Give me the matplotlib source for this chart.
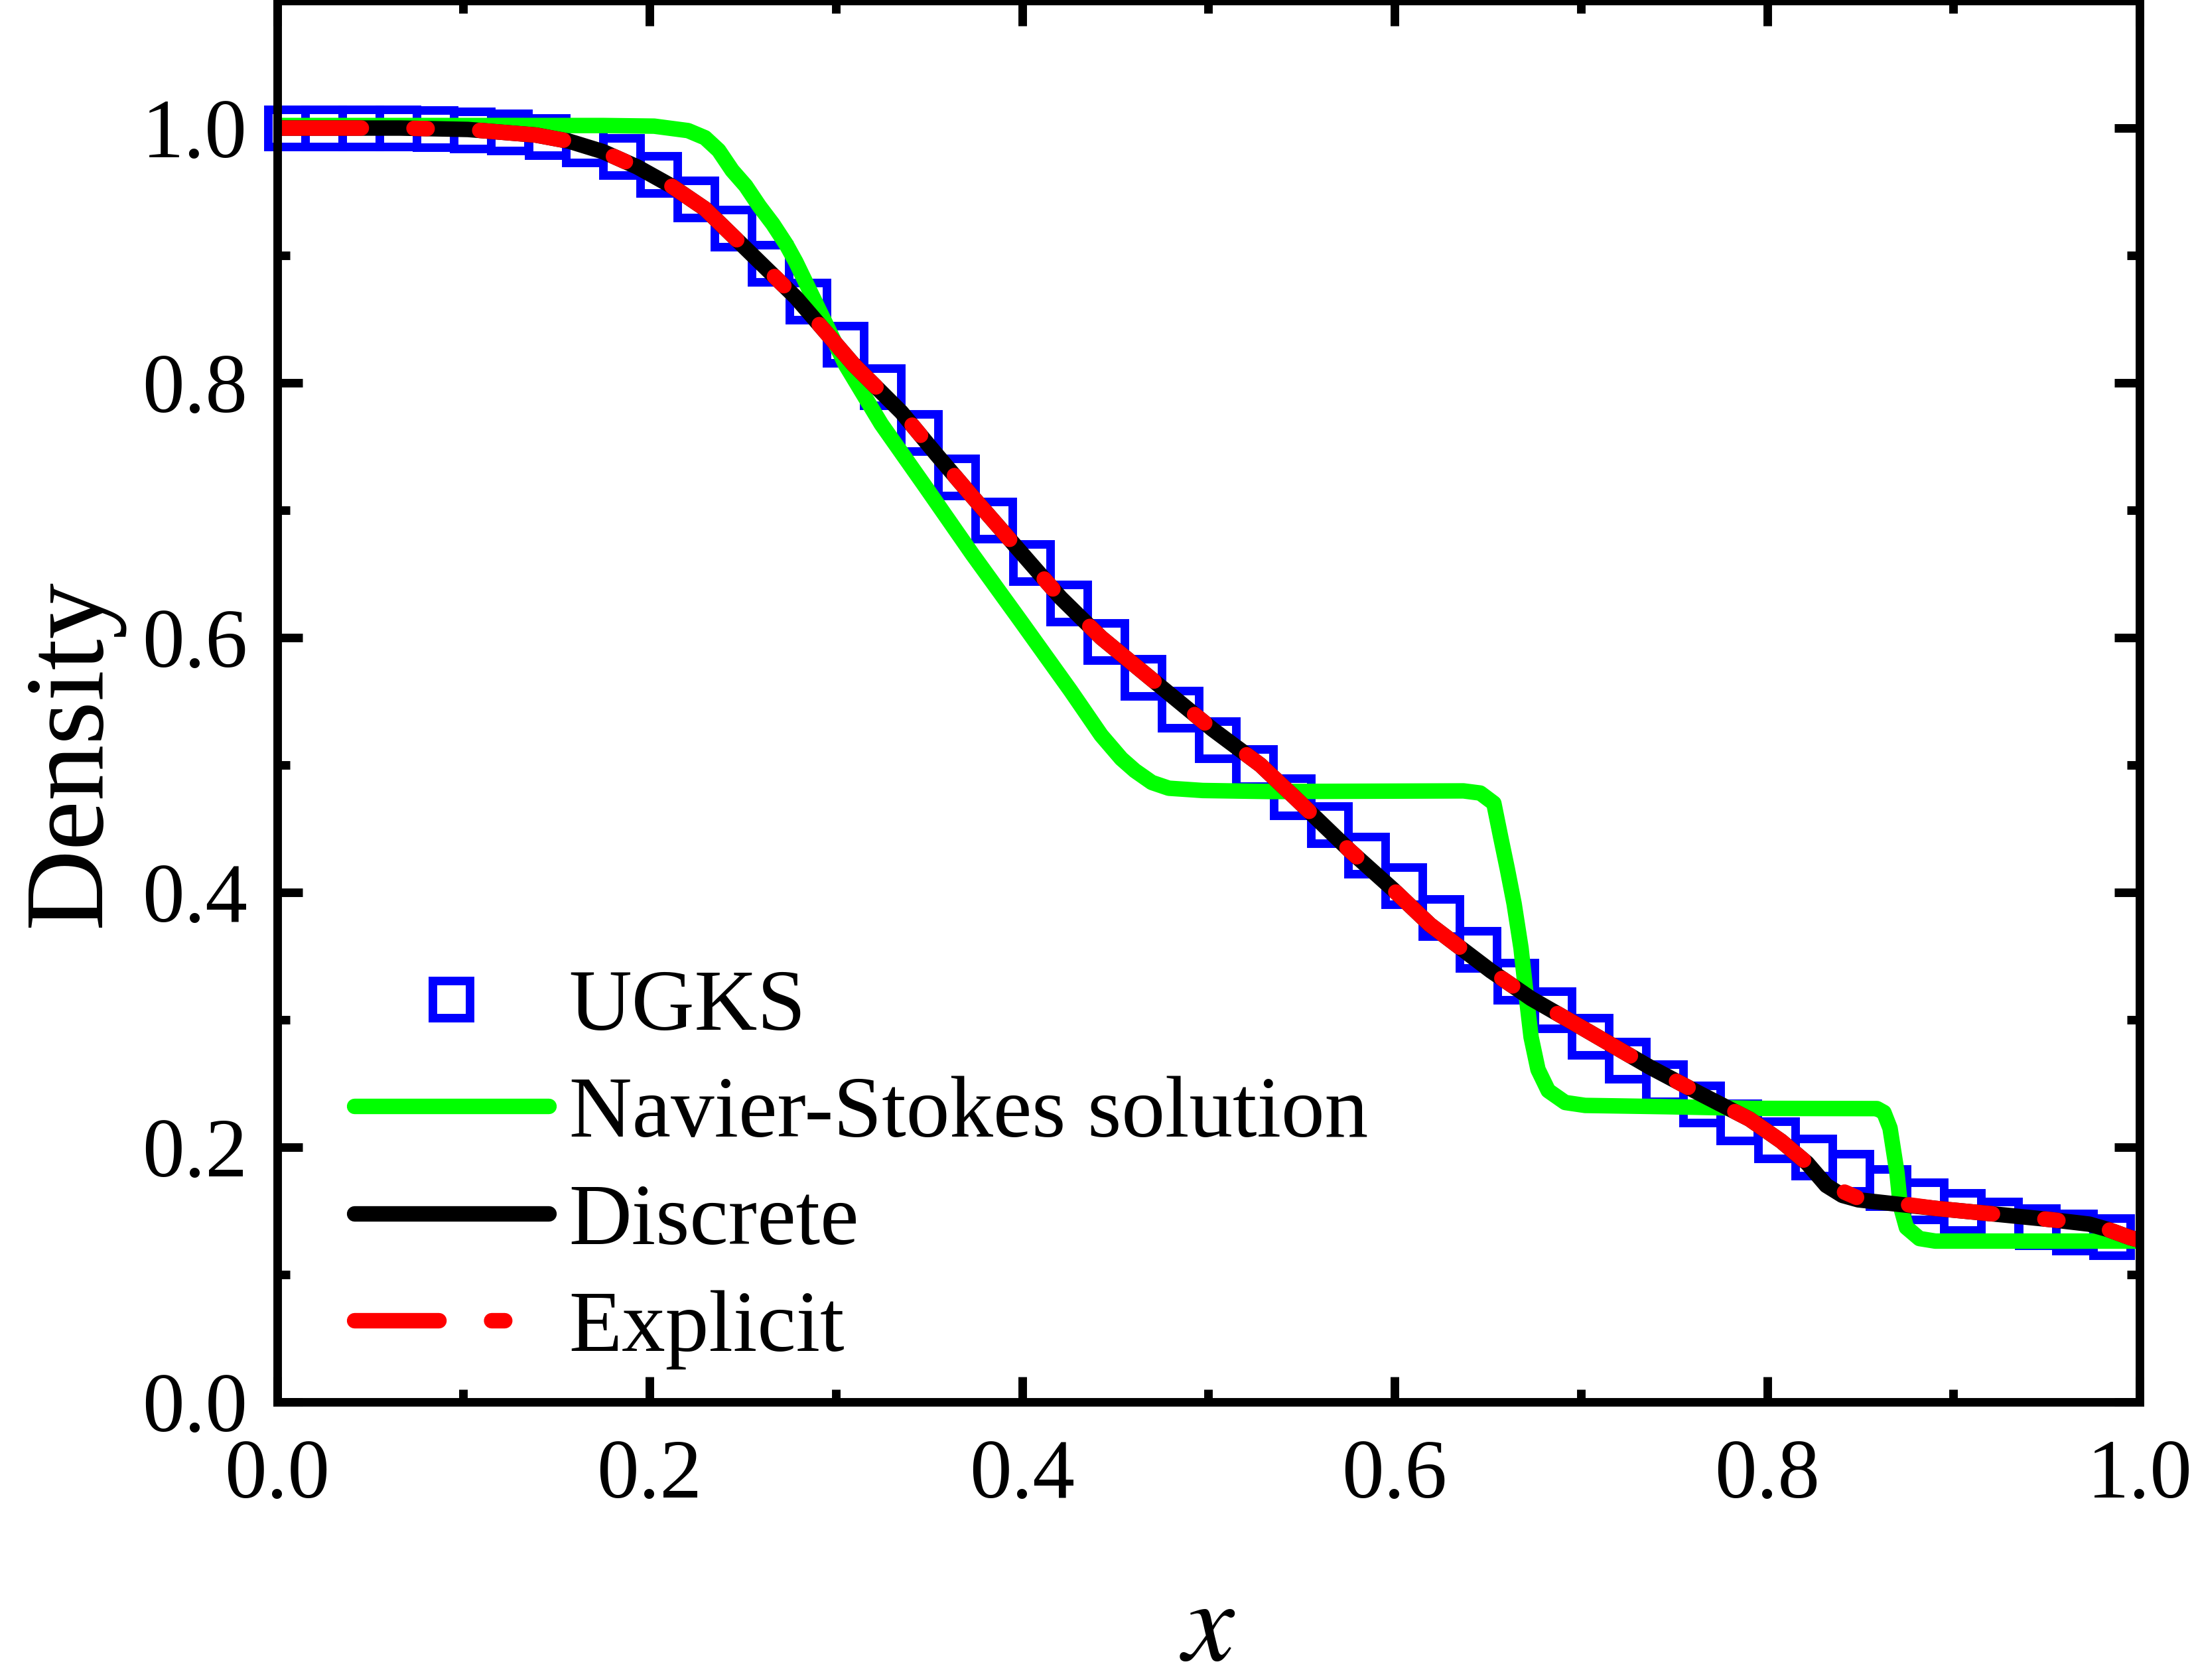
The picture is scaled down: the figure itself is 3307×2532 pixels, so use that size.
import matplotlib
matplotlib.use("Agg")
import matplotlib.pyplot as plt
from matplotlib.ticker import MultipleLocator

plt.rcParams['font.family'] = ['Liberation Serif', 'DejaVu Serif']

# UGKS (every other cell centre)
ugks_x = [0.005, 0.025, 0.045, 0.065, 0.085, 0.105, 0.125, 0.145, 0.165, 0.185,
          0.205, 0.225, 0.245, 0.265, 0.285, 0.305, 0.325, 0.345, 0.365, 0.385,
          0.405, 0.425, 0.445, 0.465, 0.485, 0.505, 0.525, 0.545, 0.565, 0.585,
          0.605, 0.625, 0.645, 0.665, 0.685, 0.705, 0.725, 0.745, 0.765, 0.785,
          0.805, 0.825, 0.845, 0.865, 0.885, 0.905, 0.925, 0.945, 0.965, 0.985]
ugks_rho = [1.000, 1.000, 1.000, 1.000, 0.9995, 0.9986, 0.9969, 0.9932, 0.9877, 0.9778,
            0.9638, 0.9444, 0.9215, 0.894, 0.864, 0.830, 0.797, 0.761, 0.726, 0.692,
            0.659, 0.627, 0.597, 0.569, 0.544, 0.520, 0.498, 0.475, 0.453, 0.429,
            0.405, 0.380, 0.355, 0.330, 0.308, 0.287, 0.268, 0.2505, 0.234, 0.2197,
            0.2057, 0.192, 0.180, 0.168, 0.158, 0.1494, 0.1427, 0.1375, 0.1333, 0.1297]

# Navier-Stokes solution
ns_x = [0.0, 0.1753, 0.2025, 0.2207, 0.2298, 0.2371, 0.2444, 0.2516, 0.259, 0.2662,
        0.2734, 0.2786, 0.3053, 0.3244, 0.348, 0.3734, 0.3988, 0.4261, 0.4425, 0.4533,
        0.4606, 0.4697, 0.4788, 0.497, 0.5333, 0.637, 0.646, 0.6533, 0.657, 0.6605,
        0.6642, 0.6679, 0.6705, 0.6733, 0.677, 0.6825, 0.6916, 0.7023, 0.746, 0.7914,
        0.859, 0.8627, 0.866, 0.8697, 0.8715, 0.8748, 0.8818, 0.8903, 0.932, 1.0]
ns_rho = [1.002, 1.002, 1.0015, 0.998, 0.9924, 0.9825, 0.9667, 0.9547, 0.9386, 0.9247,
          0.9086, 0.8948, 0.814, 0.7677, 0.7187, 0.6653, 0.614, 0.5583, 0.5234, 0.505,
          0.4956, 0.4863, 0.4818, 0.480, 0.4792, 0.4797, 0.478, 0.470, 0.4433, 0.4187,
          0.391, 0.3562, 0.3213, 0.2864, 0.261, 0.2444, 0.2351, 0.2328, 0.2318, 0.2305,
          0.2303, 0.2273, 0.215, 0.1804, 0.1544, 0.137, 0.1283, 0.1263, 0.1263, 0.1263]

# Discrete
disc_x = [0.0, 0.066, 0.1026, 0.139, 0.157, 0.175, 0.1934, 0.2116, 0.2298, 0.248,
          0.266, 0.2786, 0.3098, 0.3352, 0.3545, 0.3734, 0.4026, 0.4207, 0.4425, 0.5023,
          0.528, 0.546, 0.576, 0.599, 0.619, 0.6516, 0.6733, 0.6986, 0.7369, 0.764,
          0.7906, 0.8076, 0.8215, 0.8318, 0.8404, 0.849, 0.8903, 0.923, 0.952, 0.973,
          0.983, 0.995, 1.0]
disc_rho = [1.0, 1.0, 0.9989, 0.9945, 0.9896, 0.9815, 0.9695, 0.9547, 0.9366, 0.9107,
            0.885, 0.867, 0.814, 0.777, 0.743, 0.7106, 0.6616, 0.6313, 0.600, 0.528,
            0.500, 0.4751, 0.4328, 0.4026, 0.3747, 0.3385, 0.3167, 0.2955, 0.263, 0.242,
            0.222, 0.2047, 0.1875, 0.170, 0.1622, 0.1587, 0.152, 0.1474, 0.1432, 0.1396,
            0.1354, 0.129, 0.127]

# Explicit
expl_x = [0.0, 0.066, 0.1026, 0.139, 0.157, 0.175, 0.1934, 0.2116, 0.2298, 0.248,
          0.266, 0.2786, 0.3098, 0.3352, 0.3545, 0.3734, 0.4026, 0.4207, 0.4425, 0.5023,
          0.528, 0.546, 0.576, 0.599, 0.619, 0.6516, 0.6733, 0.6986, 0.7369, 0.764,
          0.7906, 0.8076, 0.8215, 0.8318, 0.8404, 0.849, 0.8903, 0.923, 0.952, 0.973,
          0.983, 0.995, 1.0]
expl_rho = [1.0, 1.0, 0.9989, 0.9945, 0.9896, 0.9815, 0.9695, 0.9547, 0.9366, 0.9107,
            0.885, 0.867, 0.814, 0.777, 0.743, 0.7106, 0.6616, 0.6313, 0.600, 0.528,
            0.500, 0.4751, 0.4328, 0.4026, 0.3747, 0.3385, 0.3167, 0.2955, 0.263, 0.242,
            0.222, 0.2047, 0.1875, 0.172, 0.1655, 0.160, 0.152, 0.1474, 0.1432, 0.1396,
            0.1354, 0.129, 0.127]

fig = plt.figure(figsize=(3307 / 300, 2532 / 300), dpi=300)
ax = fig.add_axes([0.12625, 0.16548, 0.84896, 0.83412])

ax.plot(ugks_x, ugks_rho, ls='none', marker='s', ms=13.4, mew=3.1, mfc='none',
        mec='#0000ff', clip_on=False, label='UGKS', zorder=2.1)
ax.plot(ns_x, ns_rho, color='#00ff00', lw=5.6, solid_capstyle='round',
        solid_joinstyle='round', label='Navier-Stokes solution', zorder=2.2)
ax.plot(disc_x, disc_rho, color='black', lw=5.6, solid_capstyle='round',
        solid_joinstyle='round', label='Discrete', zorder=2.3)
ax.plot(expl_x, expl_rho, color='#ff0000', lw=5.6, ls=(0, (5.45, 3.4, 0.85, 3.4)),
        dash_capstyle='round', dash_joinstyle='round', label='Explicit', zorder=2.4)

ax.set_xlim(0, 1)
ax.set_ylim(0, 1.1)
ax.xaxis.set_major_locator(MultipleLocator(0.2))
ax.xaxis.set_minor_locator(MultipleLocator(0.1))
ax.yaxis.set_major_locator(MultipleLocator(0.2))
ax.yaxis.set_minor_locator(MultipleLocator(0.1))

for sp in ax.spines.values():
    sp.set_linewidth(3.1)

ax.tick_params(which='both', direction='in', top=True, right=True, width=3.1, color='black')
ax.tick_params(which='major', length=9.1)
ax.tick_params(which='minor', length=4.6)
ax.tick_params(axis='x', which='major', labelsize=30.5, pad=13.2)
ax.tick_params(axis='y', which='major', labelsize=30.5, pad=10.7)

ax.legend(loc='upper left', bbox_to_anchor=(0.0415, 0.3092), frameon=False,
          borderpad=0, borderaxespad=0, handlelength=2.23, handletextpad=0.235,
          labelspacing=0.317, numpoints=1, prop={'size': 31.5})

ax.set_xlabel('x', fontsize=42, fontstyle='italic', family='STIXGeneral')
ax.xaxis.set_label_coords(0.5, -0.1842)
ax.xaxis.label.set_va('baseline')
ax.set_ylabel('Density', fontsize=40.5)
ax.yaxis.set_label_coords(-0.0953, 0.4626)
ax.yaxis.label.set_va('baseline')

fig.savefig('out.png', dpi=300)
